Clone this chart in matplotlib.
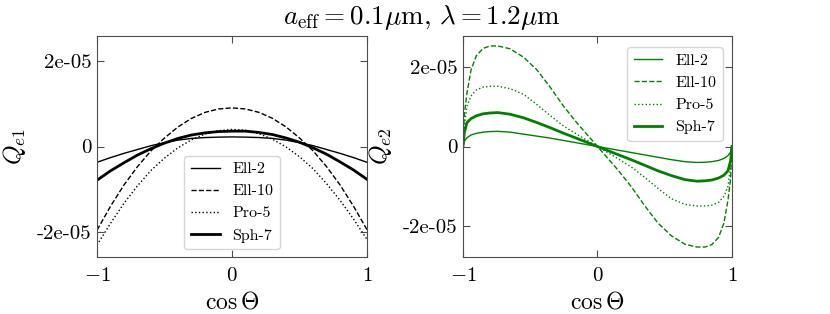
import numpy as np
import matplotlib
matplotlib.use("Agg")
import matplotlib.pyplot as plt

plt.rcParams.update({
    "font.family": "serif",
    "font.serif": ["cmr10", "DejaVu Serif"],
    "mathtext.fontset": "cm",
    "axes.unicode_minus": False,
    "axes.formatter.use_mathtext": True,
})

LABELS = ["Ell-2", "Ell-10", "Pro-5", "Sph-7"]
STYLES = ["-", "--", ":", "-"]
WIDTHS = [1.0, 1.0, 1.0, 2.0]

# left panel, Q_e1 (units of 1e-5)
X1 = [-1.0, -0.9, -0.8, -0.7, -0.6, -0.5, -0.4, -0.3, -0.2, -0.1, 0.0,
      0.1, 0.2, 0.3, 0.4, 0.5, 0.6, 0.7, 0.8, 0.9, 1.0]
ELL2_E1 = [-0.37, -0.26, -0.16, -0.07, 0.02, 0.09, 0.15, 0.19, 0.21, 0.22, 0.225,
           0.22, 0.21, 0.19, 0.15, 0.09, 0.02, -0.07, -0.16, -0.26, -0.37]
ELL10_E1 = [-1.96, -1.40, -0.90, -0.47, -0.10, 0.20, 0.46, 0.66, 0.80, 0.88, 0.905,
            0.88, 0.80, 0.66, 0.46, 0.20, -0.10, -0.47, -0.90, -1.40, -1.95]
PRO5_E1 = [-2.31, -1.80, -1.33, -0.92, -0.56, -0.27, -0.03, 0.16, 0.29, 0.37, 0.40,
           0.38, 0.30, 0.17, -0.01, -0.24, -0.52, -0.87, -1.26, -1.70, -2.18]
SPH7_E1 = [-0.79, -0.57, -0.38, -0.20, -0.05, 0.08, 0.19, 0.27, 0.32, 0.35, 0.36,
           0.36, 0.33, 0.28, 0.20, 0.10, -0.03, -0.18, -0.36, -0.55, -0.77]

# right panel, Q_e2 (units of 1e-5)
X2 = [-1.0, -0.99, -0.97, -0.94, -0.9, -0.85, -0.8, -0.74, -0.65, -0.55, -0.45,
      -0.35, -0.25, -0.15, 0.0, 0.15, 0.25, 0.35, 0.45, 0.55, 0.65, 0.74, 0.8,
      0.85, 0.9, 0.94, 0.97, 0.99, 1.0]
ELL2_E2 = [0.0, 0.13, 0.22, 0.29, 0.33, 0.36, 0.375, 0.38, 0.36, 0.31, 0.26,
           0.21, 0.15, 0.09, 0.0, -0.09, -0.15, -0.21, -0.27, -0.33, -0.38, -0.40, -0.395,
           -0.38, -0.35, -0.30, -0.23, -0.14, 0.0]
ELL10_E2 = [0.0, 0.80, 1.35, 1.92, 2.28, 2.46, 2.52, 2.52, 2.45, 2.24, 1.92,
            1.48, 1.00, 0.58, 0.0, -0.58, -1.00, -1.48, -1.92, -2.24, -2.45, -2.52, -2.52,
            -2.46, -2.28, -1.92, -1.35, -0.80, 0.0]
PRO5_E2 = [0.0, 0.50, 1.02, 1.27, 1.42, 1.49, 1.51, 1.51, 1.45, 1.31, 1.05,
           0.77, 0.51, 0.30, 0.0, -0.30, -0.51, -0.77, -1.05, -1.31, -1.45, -1.49, -1.49,
           -1.47, -1.40, -1.25, -1.00, -0.50, 0.0]
SPH7_E2 = [0.0, 0.35, 0.60, 0.70, 0.77, 0.82, 0.84, 0.85, 0.81, 0.72, 0.60,
           0.47, 0.33, 0.20, 0.0, -0.20, -0.33, -0.47, -0.61, -0.73, -0.83, -0.87, -0.86,
           -0.84, -0.79, -0.72, -0.61, -0.36, 0.0]

XTICKS = [-1, 0, 1]
XTICK_LABELS = [r"$-1$", r"$0$", r"$1$"]
YTICKS = [-2e-5, 0, 2e-5]
YTICK_LABELS = ["-2e-05", "0", "2e-05"]

fig = plt.figure(figsize=(8.3, 3.14), dpi=100)
ax1 = fig.add_axes([0.1169, 0.1815, 0.3253, 0.7038])
ax2 = fig.add_axes([0.5578, 0.1815, 0.3241, 0.7038])

series1 = [ELL2_E1, ELL10_E1, PRO5_E1, SPH7_E1]
series2 = [ELL2_E2, ELL10_E2, PRO5_E2, SPH7_E2]

for ys, lab, ls, lw in zip(series1, LABELS, STYLES, WIDTHS):
    ax1.plot(X1, np.array(ys) * 1e-5, color="black", ls=ls, lw=lw, label=lab)
for ys, lab, ls, lw in zip(series2, LABELS, STYLES, WIDTHS):
    ax2.plot(X2, np.array(ys) * 1e-5, color="green", ls=ls, lw=lw, label=lab)

for ax, lim, ylab in [(ax1, 2.59e-5, r"$Q_{e1}$"), (ax2, 2.77e-5, r"$Q_{e2}$")]:
    ax.set_xlim(-1, 1)
    ax.set_ylim(-lim, lim)
    ax.set_xticks(XTICKS); ax.set_xticklabels(XTICK_LABELS)
    ax.set_yticks(YTICKS); ax.set_yticklabels(YTICK_LABELS)
    ax.tick_params(direction="in", top=True, right=True, length=5, width=0.8,
                   labelsize=15, color="0.3")
    ax.tick_params(axis="x", pad=7)
    ax.tick_params(axis="y", pad=4)
    for s in ax.spines.values():
        s.set_color("0.3"); s.set_linewidth(0.8)
    ax.set_ylabel(ylab, fontsize=18)
    ax.yaxis.set_label_coords(-0.255, 0.5)
    ax.set_xlabel(r"$\cos\Theta$", fontsize=17)
    ax.xaxis.set_label_coords(0.5, -0.155)

ax1.legend(loc="lower center", fontsize=11.5, handlelength=1.8)
ax2.legend(loc="upper right", fontsize=11.5, handlelength=1.8,
           bbox_to_anchor=(0.995, 0.985))

fig.text(0.508, 0.99, r"$a_{\rm eff}=0.1\mu{\rm m}$, $\lambda=1.2\mu{\rm m}$",
         ha="center", va="top", fontsize=19.5)

fig.savefig("out.png", dpi=100)
